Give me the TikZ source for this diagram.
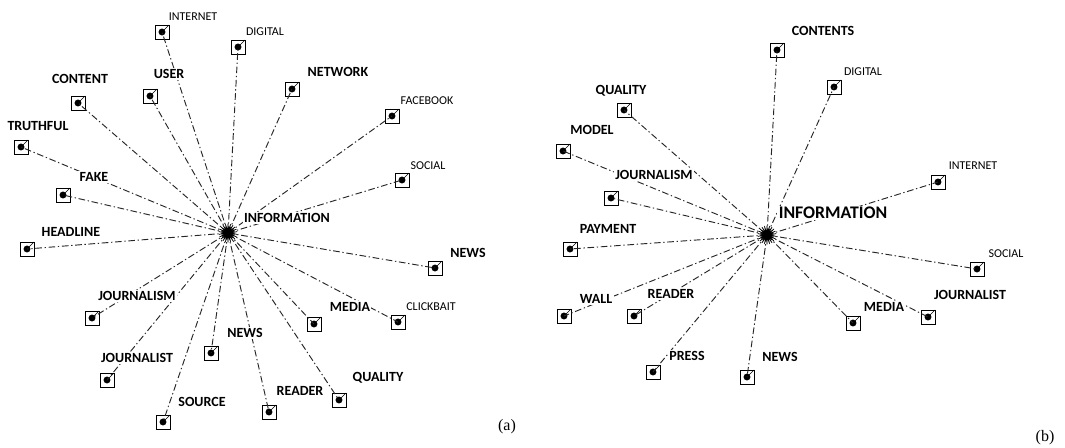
\documentclass[tikz,border=0pt]{standalone}
\usepackage{fontspec}
\setmainfont{Carlito}
\newfontfamily\capfont{Liberation Serif}
\usetikzlibrary{shapes.geometric}
\tikzset{
  conn/.style={line width=0.7pt, black!85, dash pattern=on 5pt off 2pt on 1pt off 2pt},
  mk/.style={draw, line width=0.6pt, minimum size=10.5pt, inner sep=0pt, fill=white,
    path picture={\fill[black] (path picture bounding box.center) circle (2.6pt);
      \draw[black, line width=0.4pt] (path picture bounding box.center) -- (path picture bounding box.north east);}},
  hubstar/.style={star, star points=22, star point ratio=3.5, fill=black, draw=black, line width=0.4pt, inner sep=0pt, minimum size=14pt},
  biglbl/.style={font=\bfseries\fontsize{10.5}{12}\selectfont, fill=white, inner sep=1pt},
  smalllbl/.style={font=\fontsize{9}{10}\selectfont, fill=white, inner sep=1pt},
  hugelbl/.style={font=\bfseries\fontsize{13.3}{15}\selectfont, fill=white, inner sep=1pt},
  captxt/.style={font=\capfont\fontsize{12}{14}\selectfont, inner sep=0pt},
}
\begin{document}
\begin{tikzpicture}[x=0.75pt, y=-0.75pt]
\useasboundingbox[fill=white] (0,0) rectangle (1065,448);
% ---------- panel (a) ----------
\node[mk] (a1) at (162,32) {};
\node[mk] (a2) at (238,47) {};
\node[mk] (a3) at (150,96) {};
\node[mk] (a4) at (78,103) {};
\node[mk] (a5) at (292,89) {};
\node[mk] (a6) at (392,116) {};
\node[mk] (a7) at (21,147) {};
\node[mk] (a8) at (402,180) {};
\node[mk] (a9) at (63,195) {};
\node[mk] (a10) at (27,249) {};
\node[mk] (a11) at (435,268) {};
\node[mk] (a12) at (92,318) {};
\node[mk] (a13) at (314,324) {};
\node[mk] (a14) at (398,322) {};
\node[mk] (a15) at (211,353) {};
\node[mk] (a16) at (107,380) {};
\node[mk] (a17) at (339,400) {};
\node[mk] (a18) at (269,412) {};
\node[mk] (a19) at (163,422) {};
\coordinate (ha) at (228,233);
\foreach \m in {a1,a2,a3,a4,a5,a6,a7,a8,a9,a10,a11,a12,a13,a14,a15,a16,a17,a18,a19}
  \draw[conn] (ha) -- (\m.center);
\node[hubstar] (hubA) at (ha) {};
\node[smalllbl] (la1) at (193,17) {INTERNET};
\node[smalllbl] (la2) at (265,32) {DIGITAL};
\node[biglbl] (la3) at (169,74) {USER};
\node[biglbl] (la4) at (80,79) {CONTENT};
\node[biglbl] (la5) at (338,72) {NETWORK};
\node[smalllbl] (la6) at (427,101) {FACEBOOK};
\node[biglbl] (la7) at (38,126) {TRUTHFUL};
\node[smalllbl] (la8) at (428,166) {SOCIAL};
\node[biglbl] (la9) at (94,177) {FAKE};
\node[biglbl] (la0) at (287,218) {INFORMATION};
\node[biglbl] (la10) at (71,232) {HEADLINE};
\node[biglbl] (la11) at (468,253) {NEWS};
\node[biglbl] (la12) at (137,296) {JOURNALISM};
\node[biglbl] (la13) at (350,307) {MEDIA};
\node[smalllbl] (la14) at (431,307) {CLICKBAIT};
\node[biglbl] (la15) at (245,333) {NEWS};
\node[biglbl] (la16) at (137,358) {JOURNALIST};
\node[biglbl] (la17) at (378,378) {QUALITY};
\node[biglbl] (la18) at (300,391) {READER};
\node[biglbl] (la19) at (202,402) {SOURCE};
\node[captxt] (capa) at (507,427) {(a)};
% ---------- panel (b) ----------
\node[mk] (b1) at (777,50) {};
\node[mk] (b2) at (834,87) {};
\node[mk] (b3) at (624,110) {};
\node[mk] (b4) at (563,151) {};
\node[mk] (b5) at (938,182) {};
\node[mk] (b6) at (611,198) {};
\node[mk] (b7) at (570,249) {};
\node[mk] (b8) at (977,269) {};
\node[mk] (b9) at (564,316) {};
\node[mk] (b10) at (634,316) {};
\node[mk] (b11) at (928,317) {};
\node[mk] (b12) at (853,323) {};
\node[mk] (b13) at (653,372) {};
\node[mk] (b14) at (747,377) {};
\coordinate (hb) at (767,235);
\foreach \m in {b1,b2,b3,b4,b5,b6,b7,b8,b9,b10,b11,b12,b13,b14}
  \draw[conn] (hb) -- (\m.center);
\node[hubstar] (hubB) at (hb) {};
\node[biglbl] (lb1) at (823,31) {CONTENTS};
\node[smalllbl] (lb2) at (863,72) {DIGITAL};
\node[biglbl] (lb3) at (621,91) {QUALITY};
\node[biglbl] (lb4) at (592,130) {MODEL};
\node[smalllbl] (lb5) at (973,166) {INTERNET};
\node[biglbl] (lb6) at (654,175) {JOURNALISM};
\node[hugelbl] (lb0) at (833,213) {INFORMATION};
\node[biglbl] (lb7) at (608,229) {PAYMENT};
\node[smalllbl] (lb8) at (1006,254) {SOCIAL};
\node[biglbl] (lb11) at (970,295) {JOURNALIST};
\node[biglbl] (lb9) at (596,299) {WALL};
\node[biglbl] (lb10) at (671,294) {READER};
\node[biglbl] (lb12) at (884,307) {MEDIA};
\node[biglbl] (lb13) at (687,356) {PRESS};
\node[biglbl] (lb14) at (780,357) {NEWS};
\node[captxt] (capb) at (1045,438) {(b)};
\end{tikzpicture}
\end{document}
